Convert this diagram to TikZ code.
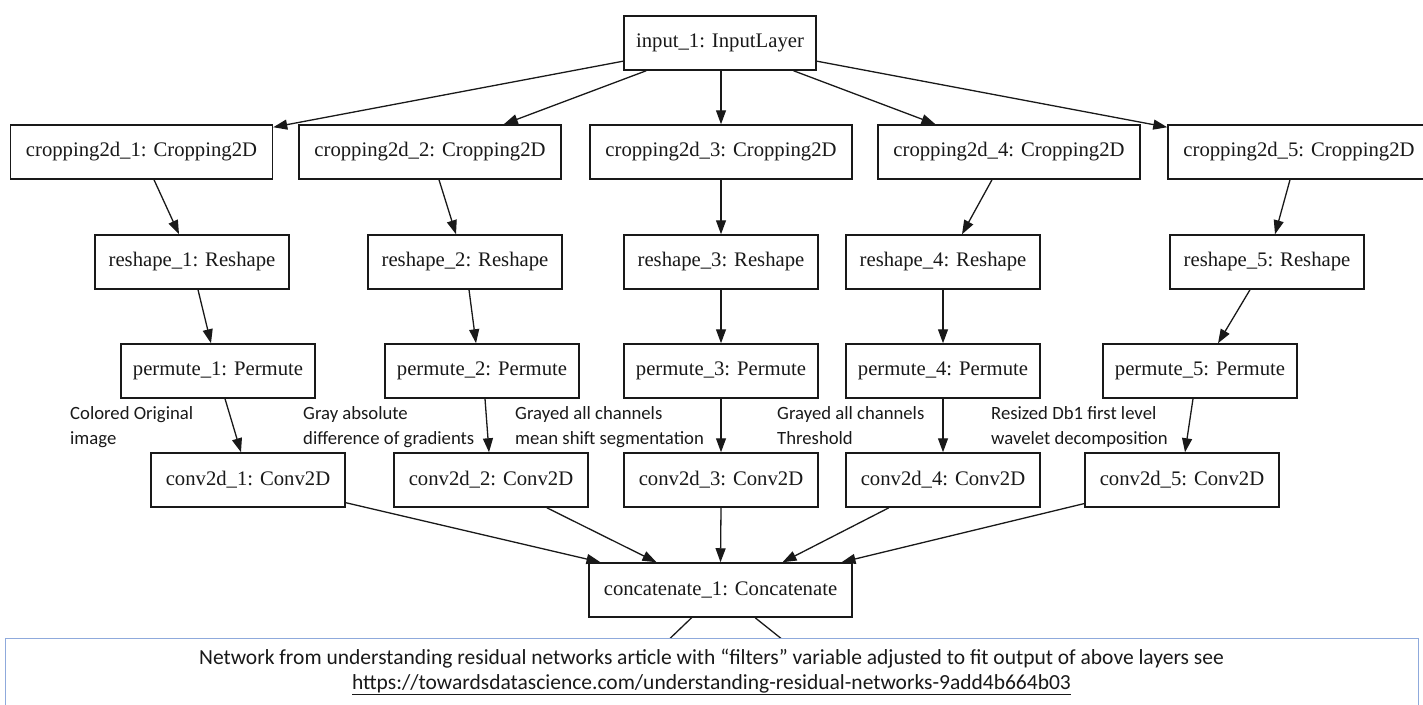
\documentclass[tikz,border=0pt]{standalone}
\usepackage{fontspec}
\setmainfont{Liberation Serif}
\newfontfamily\calfont{Carlito}
\usetikzlibrary{arrows.meta}
\definecolor{boxblue}{RGB}{143,170,220}
\definecolor{ink}{RGB}{25,25,25}
\begin{document}
\begin{tikzpicture}[x=1pt,y=-1pt,
  layer/.style={draw=ink, line width=1.5pt, minimum height=54pt, inner sep=0pt,
    font=\fontsize{20.7}{24}\selectfont, fill=white, text=ink},
  wide/.style={layer, minimum width=262pt},
  narrow/.style={layer, minimum width=194pt},
  arr/.style={-{Triangle[length=14pt,width=10pt]}, line width=1.3pt, draw=ink},
  plain/.style={line width=1.3pt, draw=ink},
  lab/.style={font=\calfont\fontsize{18.7}{25}\selectfont, align=left, anchor=base west, inner sep=0pt, text=ink}]

\useasboundingbox (0,0) rectangle (1423,704);
\clip (0,0) rectangle (1423,704);

% nodes
\node[layer, minimum width=192pt] (in) at (720,43) {input\_1: InputLayer};

\node[wide] (c1) at (141.5,152) {cropping2d\_1: Cropping2D};
\node[wide] (c2) at (430,152) {cropping2d\_2: Cropping2D};
\node[wide] (c3) at (721,152) {cropping2d\_3: Cropping2D};
\node[wide] (c4) at (1009,152) {cropping2d\_4: Cropping2D};
\node[wide] (c5) at (1299,152) {cropping2d\_5: Cropping2D};

\node[narrow] (r1) at (192,262) {reshape\_1: Reshape};
\node[narrow] (r2) at (465,262) {reshape\_2: Reshape};
\node[narrow] (r3) at (721,262) {reshape\_3: Reshape};
\node[narrow] (r4) at (943,262) {reshape\_4: Reshape};
\node[narrow] (r5) at (1267,262) {reshape\_5: Reshape};

\node[narrow] (p1) at (218,371) {permute\_1: Permute};
\node[narrow] (p2) at (482,371) {permute\_2: Permute};
\node[narrow] (p3) at (721,371) {permute\_3: Permute};
\node[narrow] (p4) at (943,371) {permute\_4: Permute};
\node[narrow] (p5) at (1200,371) {permute\_5: Permute};

\node[narrow] (v1) at (248,480) {conv2d\_1: Conv2D};
\node[narrow] (v2) at (491,480) {conv2d\_2: Conv2D};
\node[narrow] (v3) at (721,480) {conv2d\_3: Conv2D};
\node[narrow] (v4) at (943,480) {conv2d\_4: Conv2D};
\node[narrow] (v5) at (1182,480) {conv2d\_5: Conv2D};

\node[layer, minimum width=263pt] (cc) at (720.5,590) {concatenate\_1: Concatenate};

% input -> cropping
\draw[arr] (in) -- (c1);
\draw[arr] (in) -- (c2);
\draw[arr] (in.south -| c3.north) -- (c3.north);
\draw[arr] (in) -- (c4);
\draw[arr] (in) -- (c5);

% cropping -> reshape
\draw[arr] ([xshift=12.5pt]c1.south) -- ([xshift=-13pt]r1.north);
\draw[arr] ([xshift=9pt]c2.south) -- ([xshift=-9pt]r2.north);
\draw[arr] (c3.south) -- (r3.north);
\draw[arr] ([xshift=-17pt]c4.south) -- ([xshift=19pt]r4.north);
\draw[arr] ([xshift=-9pt]c5.south) -- ([xshift=8pt]r5.north);

% reshape -> permute
\draw[arr] ([xshift=6pt]r1.south) -- ([xshift=-7pt]p1.north);
\draw[arr] ([xshift=4pt]r2.south) -- ([xshift=-6pt]p2.north);
\draw[arr] (r3.south) -- (p3.north);
\draw[arr] (r4.south) -- (p4.north);
\draw[arr] ([xshift=-17pt]r5.south) -- ([xshift=18pt]p5.north);

% permute -> conv
\draw[arr] ([xshift=7pt]p1.south) -- ([xshift=-7pt]v1.north);
\draw[arr] ([xshift=3pt]p2.south) -- ([xshift=-2pt]v2.north);
\draw[arr] (p3.south) -- (v3.north);
\draw[arr] (p4.south) -- (v4.north);
\draw[arr] ([xshift=-7pt]p5.south) -- ([xshift=3pt]v5.north);

% conv -> concatenate
\draw[arr] (v1) -- ([xshift=-120pt]cc.north);
\draw[arr] (v2) -- ([xshift=-64pt]cc.north);
\draw[arr] (v3.south) -- (cc.north);
\draw[arr] (v4) -- ([xshift=62pt]cc.north);
\draw[arr] (v5) -- ([xshift=121pt]cc.north);

% labels (anchor = baseline of the last line)
\node[lab] (l1) at (70,444) {Colored Original\\image};
\node[lab] (l2) at (303,444) {Gray absolute\\difference of gradients};
\node[lab] (l3) at (515,444) {Grayed all channels\\mean shift segmentation};
\node[lab] (l4) at (777,444) {Grayed all channels\\Threshold};
\node[lab] (l5) at (991,444) {Resized Db1 first level\\wavelet decomposition};

% outgoing edges of concatenate (continue below the note)
\coordinate (o1) at (660,648);
\coordinate (o2) at (793,648);
\draw[plain] (cc) -- (o1);
\draw[plain] (cc) -- (o2);

% note box
\node[draw=boxblue, line width=1.2pt, fill=white, minimum width=1413pt, minimum height=76pt,
  inner sep=0pt, anchor=north west] (note) at (5,638) {};
\node[align=center, inner sep=0pt, text=ink, font=\calfont\fontsize{21.5}{24.5}\selectfont]
  (notetext) at (711.5,672)
  {Network from understanding residual networks article with “filters” variable adjusted to fit output of above layers see\\
   \underline{https://towardsdatascience.com/understanding-residual-networks-9add4b664b03}};
\end{tikzpicture}
\end{document}
